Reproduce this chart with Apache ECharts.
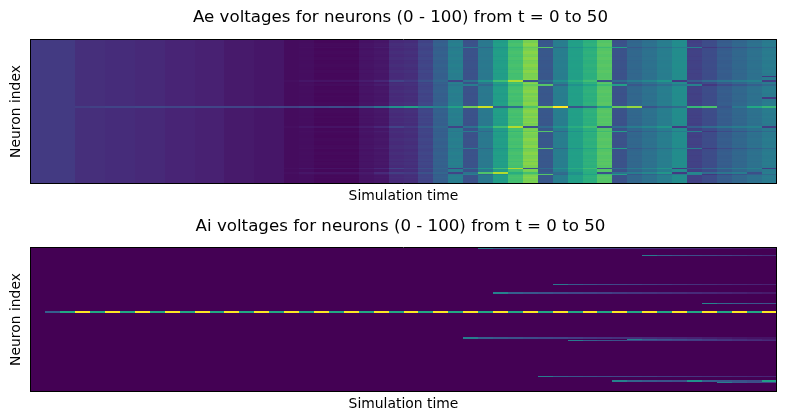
<!DOCTYPE html>
<html><head><meta charset="utf-8">
<style>html,body{margin:0;padding:0;background:#fff}#c{width:789px;height:417px}</style>
<script src="https://cdn.jsdelivr.net/npm/echarts@6/dist/echarts.min.js"></script>
</head><body><div id="c"></div>
<script>
const titleAe = "Ae voltages for neurons (0 - 100) from t = 0 to 50";
const titleAi = "Ai voltages for neurons (0 - 100) from t = 0 to 50";
const xLabel = "Simulation time";
const yLabel = "Neuron index";
const columns = Array.from({length:50},(_,i)=>i);
const neurons = Array.from({length:100},(_,i)=>i);
const viridis = ['#440154','#482475','#414487','#355f8d','#2a788e','#21918c','#22a884','#44bf70','#7ad151','#bddf26','#fde725'];

// Ae: typical row profiles, read column by column
const aeBase = [.17,.17,.17,.135,.135,.125,.125,.115,.115,.10,.10,.09,.09,.07,.07,.06,.06,.03,.035,.02,.02,.02,.05,.06,.12,.13,.2,.3,.42,.25,.4,.55,.7,.8,.27,.42,.56,.63,.73,.25,.33,.37,.42,.48,.19,.23,.29,.33,.37,.41];
const aeLight = [.17,.17,.17,.135,.135,.125,.125,.115,.115,.10,.10,.09,.09,.07,.07,.06,.06,.03,.037,.025,.025,.025,.055,.065,.13,.14,.21,.31,.43,.255,.405,.56,.71,.82,.275,.425,.565,.64,.74,.255,.335,.375,.425,.485,.195,.235,.295,.335,.375,.415];
const aeDark = [.17,.17,.17,.135,.135,.125,.125,.115,.115,.10,.10,.09,.09,.07,.07,.06,.06,.03,.033,.017,.017,.017,.047,.057,.115,.125,.195,.295,.415,.245,.395,.545,.69,.79,.265,.415,.555,.625,.725,.245,.325,.365,.415,.475,.185,.225,.285,.325,.365,.405];
const aeLate = [.17,.17,.17,.135,.135,.125,.125,.115,.115,.10,.10,.09,.09,.07,.07,.06,.06,.03,.035,.02,.02,.02,.05,.06,.12,.13,.2,.3,.42,.25,.4,.55,.7,.8,.27,.42,.56,.63,.73,.25,.33,.37,.42,.48,.19,.23,.29,.33,.37,.17];
const aePulseA = [.17,.17,.17,.135,.135,.125,.125,.115,.115,.10,.10,.09,.09,.07,.07,.06,.06,.03,.04,.03,.03,.03,.06,.08,.13,.14,.2,.29,.39,.42,.33,.5,.66,.76,.73,.33,.5,.58,.68,.56,.27,.31,.35,.41,.43,.16,.22,.26,.3,.34];
const aePulseB = [.17,.17,.17,.135,.135,.125,.125,.115,.115,.10,.10,.09,.09,.07,.07,.06,.06,.04,.06,.05,.05,.05,.08,.11,.2,.17,.25,.33,.2,.38,.52,.69,.88,.25,.35,.5,.62,.69,.25,.36,.42,.46,.52,.17,.3,.35,.39,.42,.44,.18];
const aePulseC = [.17,.17,.17,.135,.135,.125,.125,.115,.115,.10,.10,.09,.09,.07,.07,.06,.06,.04,.06,.05,.05,.05,.07,.12,.18,.17,.25,.33,.2,.38,.72,.88,.62,.7,.3,.35,.5,.62,.25,.38,.42,.46,.52,.17,.46,.35,.39,.42,.24,.42];
const aeSpike = [.17,.17,.17,.18,.19,.2,.2,.21,.21,.2,.21,.21,.2,.2,.2,.19,.2,.19,.22,.21,.23,.22,.29,.38,.5,.56,.47,.43,.57,.78,.92,.3,.36,.72,.8,1,.26,.34,.55,.76,.84,.26,.31,.34,.66,.71,.26,.4,.6,.66];
const aeProfiles = {b:aeBase,l:aeLight,d:aeDark,e:aeLate,p:aePulseA,q:aePulseB,r:aePulseC,s:aeSpike};
// one letter per neuron, top row first
const aeRowProfile = "ddllb"+"pdbll"+"bdlld"+"bbllb"+"dlldb"+"eblqd"+"lpdbb"+"lldbl"+"ebdll"+"bsdbl"+"lbdld"+"bbldb"+"qdbpl"+"bddll"+"bbdll"+"pdbll"+"dbbld"+"llbdq"+"bdrpb"+"lbdbb";

// Ai: mostly silent; active neurons as [neuron, first column, values...]
const aiRows = [
 [0,30,.4,.3,.27,.25,.23,.21,.2,.19,.17,.16,.15,.14,.13,.12,.11,.1,.09,.08,.07,.06],
 [5,41,.42,.3,.26,.24,.22,.2,.18,.16,.14],
 [25,35,.4,.28,.25,.23,.21,.2,.18,.17,.15,.14,.13,.12,.11,.1,.09],
 [31,31,.44,.3,.27,.25,.23,.21,.2,.19,.17,.16,.15,.14,.13,.12,.11,.1,.09,.08,.07],
 [38,45,.45,.33,.3,.27,.25],
 [44,1,.3,.6,1,.6,1,.6,1,.6,1,.6,1,.6,1,.6,1,.6,1,.6,1,.6,1,.6,1,.6,1,.6,1,.6,1,.6,1,.6,1,.6,1,.6,1,.6,1,.6,1,.6,1,.6,1,.6,1,.6,1],
 [62,29,.42,.3,.27,.25,.23,.21,.2,.18,.16,.15,.14,.13,.12,.11,.1,.09,.08,.07,.06,.05,.05],
 [63,40,.42,.3,.26,.23,.2,.17,.14,.12,.1,.08],
 [64,36,.42,.3,.27,.25,.23,.21,.2,.19,.18,.17,.16,.14,.13,.12],
 [89,34,.42,.3,.27,.25,.23,.21,.2,.19,.17,.16,.15,.14,.13,.12,.11,.1],
 [92,39,.44,.32,.28,.26,.24,.5,.3,.27,.25,.23,.55],
 [93,46,.42,.28,.24,.2]
];

function aeCells(){
  const out=[];
  neurons.forEach(r=>{
    const p=aeProfiles[aeRowProfile[r]];
    columns.forEach(c=>out.push([c,r,p[c]]));
  });
  return out;
}
function aiCells(){
  const lookup={};
  aiRows.forEach(a=>lookup[a[0]]=a);
  const out=[];
  neurons.forEach(r=>{
    const a=lookup[r];
    columns.forEach(c=>{
      let v=0;
      if(a && c>=a[1] && a[c-a[1]+2]!==undefined) v=a[c-a[1]+2];
      out.push([c,r,v]);
    });
  });
  return out;
}
// crisp, gap-free cells placed by the axes' own scales
const snap=v=>Math.round(+v.toFixed(3));
function cell(params,api){
  const p=api.coord([api.value(0),api.value(1)]);
  const s=api.size([1,1]);
  const x0=snap(p[0]-s[0]/2), x1=snap(p[0]+s[0]/2);
  const y0=snap(p[1]-s[1]/2+0.32), y1=snap(p[1]+s[1]/2+0.32);
  return {type:'rect',shape:{x:x0,y:y0,width:x1-x0,height:y1-y0},style:{fill:api.visual('color')},silent:true};
}
const font='"DejaVu Sans"';
const frame={show:true,onZero:false,lineStyle:{color:'#000',width:1}};
function xA(idx,pos,name){return {type:'category',gridIndex:idx,position:pos,data:columns,name:name||'',nameLocation:'middle',nameGap:6,
  nameTextStyle:{color:'#000',fontSize:13.9,fontFamily:font},axisLine:frame,axisTick:{show:false},axisLabel:{show:false},splitLine:{show:false},z:5};}
function yA(idx,pos,name){return {type:'category',gridIndex:idx,position:pos,inverse:true,data:neurons,name:name||'',nameLocation:'middle',nameGap:7,
  nameTextStyle:{color:'#000',fontSize:13.9,fontFamily:font},axisLine:frame,axisTick:{show:false},axisLabel:{show:false},splitLine:{show:false},z:5};}
const chart=echarts.init(document.getElementById('c'),null,{renderer:'canvas'});
chart.setOption({
  animation:false,backgroundColor:'#fff',
  title:[
    {text:titleAe,left:395.5,top:4,textAlign:'center',textStyle:{color:'#000',fontSize:16.67,fontWeight:'normal',fontFamily:font}},
    {text:titleAi,left:395.5,top:213,textAlign:'center',textStyle:{color:'#000',fontSize:16.67,fontWeight:'normal',fontFamily:font}}
  ],
  grid:[{left:30.5,width:746,top:39.5,height:144,outerBoundsMode:'none'},{left:30.5,width:746,top:247.5,height:144,outerBoundsMode:'none'}],
  xAxis:[xA(0,'bottom',xLabel),xA(0,'top'),xA(1,'bottom',xLabel),xA(1,'top')],
  yAxis:[yA(0,'left',yLabel),yA(0,'right'),yA(1,'left',yLabel),yA(1,'right')],
  visualMap:{show:false,type:'continuous',min:0,max:1,dimension:2,seriesIndex:[0,1],inRange:{color:viridis}},
  series:[
    {type:'custom',xAxisIndex:0,yAxisIndex:0,data:aeCells(),renderItem:cell,progressive:0,z:1,encode:{x:0,y:1}},
    {type:'custom',xAxisIndex:2,yAxisIndex:2,data:aiCells(),renderItem:cell,progressive:0,z:1,encode:{x:0,y:1}}
  ]
});
</script></body></html>
